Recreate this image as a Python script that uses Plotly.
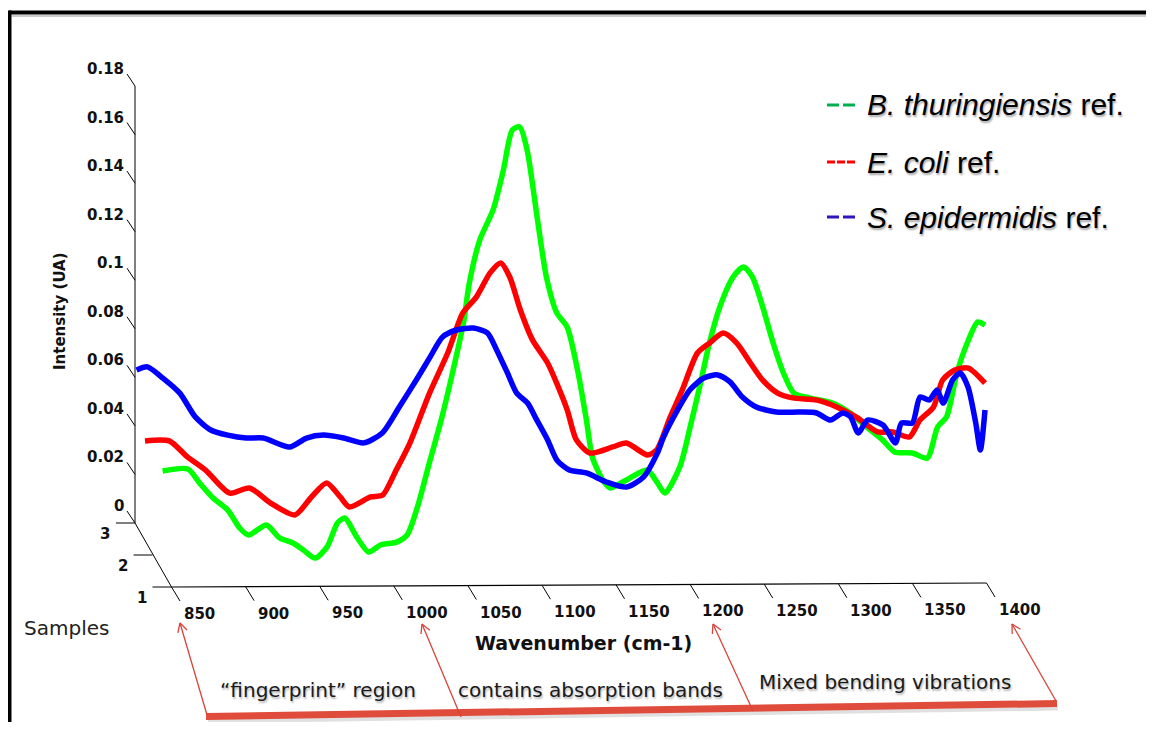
import math
import plotly.graph_objects as go

# ---------------- data ----------------
bt_wavenumber = [844, 861, 869, 878, 888, 896, 902, 914, 923, 932,
                 939, 947, 955, 962, 967, 975, 983, 991, 1002, 1009,
                 1016, 1024, 1032, 1039, 1047, 1051, 1058, 1067, 1074, 1080,
                 1085, 1090, 1097, 1103, 1110, 1117, 1124, 1130, 1134, 1141,
                 1146, 1157, 1171, 1178, 1183, 1193, 1200, 1207, 1213, 1220,
                 1229, 1236, 1242, 1249, 1256, 1263, 1270, 1281, 1296, 1308,
                 1319, 1330, 1338, 1350, 1360, 1367, 1373, 1380, 1387, 1394, 1399]
bt_intensity = [0.0478, 0.0486, 0.0428, 0.0367, 0.0317, 0.0243, 0.0214, 0.0255, 0.0202, 0.0181,
                0.0152, 0.0119, 0.0165, 0.0264, 0.0284, 0.0206, 0.0144, 0.0173, 0.0185, 0.0214,
                0.0330, 0.0511, 0.0688, 0.0865, 0.1087, 0.1252, 0.1429, 0.1553, 0.1718, 0.1882,
                0.1895, 0.1800, 0.1512, 0.1277, 0.1129, 0.1071, 0.0894, 0.0688, 0.0535, 0.0441,
                0.0408, 0.0441, 0.0482, 0.0428, 0.0387, 0.0494, 0.0659, 0.0840, 0.1005, 0.1153,
                0.1277, 0.1318, 0.1277, 0.1153, 0.1005, 0.0881, 0.0799, 0.0778, 0.0758, 0.0717,
                0.0659, 0.0605, 0.0556, 0.0552, 0.0531, 0.0659, 0.0700, 0.0881, 0.1005, 0.1091, 0.1079]

ec_wavenumber = [845, 861, 873, 885, 901, 914, 928, 944, 955, 965,
                 974, 980, 994, 1002, 1011, 1020, 1033, 1045, 1055, 1064,
                 1073, 1080, 1086, 1093, 1101, 1111, 1117, 1124, 1130, 1139,
                 1154, 1163, 1177, 1183, 1192, 1200, 1210, 1218, 1227, 1236,
                 1245, 1253, 1263, 1273, 1289, 1302, 1315, 1329, 1339, 1350,
                 1357, 1366, 1372, 1380, 1389, 1400]
ec_intensity = [0.0470, 0.0470, 0.0404, 0.0350, 0.0255, 0.0276, 0.0214, 0.0165, 0.0239, 0.0297,
                0.0239, 0.0198, 0.0239, 0.0247, 0.0350, 0.0461, 0.0667, 0.0832, 0.0997, 0.1063,
                0.1162, 0.1203, 0.1145, 0.1009, 0.0886, 0.0791, 0.0708, 0.0597, 0.0474, 0.0420,
                0.0445, 0.0461, 0.0412, 0.0432, 0.0568, 0.0680, 0.0832, 0.0873, 0.0914, 0.0873,
                0.0791, 0.0721, 0.0667, 0.0647, 0.0638, 0.0610, 0.0568, 0.0507, 0.0507, 0.0486,
                0.0556, 0.0610, 0.0721, 0.0762, 0.0770, 0.0708]

se_wavenumber = [851, 858, 868, 879, 889, 899, 910, 922, 933, 950,
                 961, 972, 985, 998, 1010, 1021, 1032, 1041, 1049, 1058,
                 1069, 1078, 1084, 1091, 1097, 1104, 1110, 1117, 1123, 1131,
                 1142, 1155, 1168, 1179, 1188, 1192, 1201, 1209, 1218, 1227,
                 1235, 1243, 1252, 1265, 1280, 1291, 1300, 1308, 1313, 1318,
                 1324, 1334, 1342, 1346, 1353, 1358, 1364, 1369, 1373, 1379,
                 1384, 1389, 1394, 1397, 1400]
se_intensity = [0.0630, 0.0643, 0.0597, 0.0535, 0.0437, 0.0383, 0.0362, 0.0350, 0.0350, 0.0313,
                0.0350, 0.0362, 0.0350, 0.0330, 0.0371, 0.0478, 0.0589, 0.0684, 0.0766, 0.0795,
                0.0803, 0.0783, 0.0713, 0.0618, 0.0535, 0.0494, 0.0424, 0.0342, 0.0259, 0.0218,
                0.0206, 0.0169, 0.0148, 0.0189, 0.0288, 0.0354, 0.0465, 0.0548, 0.0597, 0.0610,
                0.0581, 0.0519, 0.0478, 0.0457, 0.0457, 0.0453, 0.0424, 0.0453, 0.0437, 0.0371,
                0.0424, 0.0404, 0.0330, 0.0412, 0.0412, 0.0519, 0.0507, 0.0548, 0.0494, 0.0589,
                0.0618, 0.0560, 0.0412, 0.0301, 0.0465]

series_names = ["B. thuringiensis", "E. coli", "S. epidermidis"]
series_samples = [1, 2, 3]
wavenumber_ticks = [850, 900, 950, 1000, 1050, 1100, 1150, 1200, 1250, 1300, 1350, 1400]
intensity_ticks = [0, 0.02, 0.04, 0.06, 0.08, 0.1, 0.12, 0.14, 0.16, 0.18]
intensity_tick_labels = ["0", "0.02", "0.04", "0.06", "0.08", "0.1", "0.12", "0.14", "0.16", "0.18"]
sample_ticks = [1, 2, 3]
region_labels = ["\u201cfingerprint\u201d region", "contains absorption bands", "Mixed bending vibrations"]

# ---------------- layout / projection (styling) ----------------
PAGE_W, PAGE_H = 1154, 730
OFF = 8                               # default page margin around the plot div
W, H = PAGE_W - 2 * OFF, PAGE_H - 2 * OFF
KZ = 437 / 0.18                      # px per intensity unit
XR = [828, 1416]
YR = [-0.016, 0.2]
proj = [  # front (sample 1) -> back (sample 3), in page pixels
    dict(wa=850, sxa=171.5, kx=815 / 550, y0=587),
    dict(wa=845, sxa=145.0, kx=840 / 555, y0=555),
    dict(wa=850, sxa=135.0, kx=850 / 550, y0=523),
]
ids = ["", "2", "3"]
line_colors = ["#00ff00", "#ff0000", "#0000ff"]
legend_colors = ["#00b050", "#ff0000", "#2e14bd"]
legend_dash = ["12px,4px", "8px,2px", "12px,4px"]


def sx(p, w):
    return p["sxa"] + (w - p["wa"]) * p["kx"]


def sy(p, v):
    return p["y0"] - v * KZ


def px(x):
    return (x - OFF) / W


def py(y):
    return 1 - (y - OFF) / H


series = [(bt_wavenumber, bt_intensity), (ec_wavenumber, ec_intensity), (se_wavenumber, se_intensity)]

fig = go.Figure()
for k in [2, 1, 0]:
    fig.add_trace(go.Scatter(
        x=series[k][0], y=series[k][1],
        xaxis="x" + ids[k], yaxis="y" + ids[k],
        mode="lines", name=series_names[k], showlegend=False, hoverinfo="skip",
        line=dict(color=line_colors[k], width=5.5, shape="spline", smoothing=0.7),
    ))

layout = dict(
    width=W, height=H, margin=dict(l=0, r=0, t=0, b=0),
    paper_bgcolor="white", plot_bgcolor="rgba(0,0,0,0)", showlegend=False,
)
for k, p in enumerate(proj):
    layout["xaxis" + ids[k]] = dict(domain=[px(sx(p, XR[0])), px(sx(p, XR[1]))], range=XR,
                                    visible=False, fixedrange=True, anchor="y" + ids[k])
    layout["yaxis" + ids[k]] = dict(domain=[py(sy(p, YR[0])), py(sy(p, YR[1]))], range=YR,
                                    visible=False, fixedrange=True, anchor="x" + ids[k])
fig.update_layout(**layout)

shapes = []
ann = []
BLACK = "#000000"
tick_font = dict(family="DejaVu Sans", size=15, color="#111111", weight="bold")

# outer frame
shapes.append(dict(type="line", xref="paper", yref="paper", x0=px(12), y0=py(16), x1=1, y1=py(16),
                   line=dict(color="#bbbbbb", width=1.5)))
shapes.append(dict(type="line", xref="paper", yref="paper", x0=px(9), y0=py(12.5), x1=1, y1=py(12.5),
                   line=dict(color=BLACK, width=4)))
shapes.append(dict(type="line", xref="paper", yref="paper", x0=px(9.5), y0=py(10.5), x1=px(9.5), y1=0,
                   line=dict(color=BLACK, width=4)))

# vertical intensity axis (back plane, sample 3)
shapes.append(dict(type="line", xref="x3", yref="y3", x0=850, y0=0, x1=850, y1=0.18,
                   line=dict(color=BLACK, width=1)))
for v, lab in zip(intensity_ticks, intensity_tick_labels):
    shapes.append(dict(type="line", xref="x3", yref="y3", xsizemode="pixel", ysizemode="pixel",
                       xanchor=850, yanchor=v, x0=0, y0=0, x1=-8, y1=12,
                       line=dict(color=BLACK, width=1)))
    ann.append(dict(xref="x3", yref="y3", x=850, y=v, text=lab, showarrow=False,
                    xanchor="right", yanchor="middle", xshift=-9, yshift=17, font=tick_font))

# depth (samples) axis
shapes.append(dict(type="line", xref="paper", yref="paper",
                   x0=px(sx(proj[2], 850)), y0=py(sy(proj[2], 0)),
                   x1=px(sx(proj[0], 850)), y1=py(sy(proj[0], 0)),
                   line=dict(color=BLACK, width=1)))
for k, s in enumerate(series_samples):
    shapes.append(dict(type="line", xref="x" + ids[k], yref="y" + ids[k], xsizemode="pixel",
                       ysizemode="pixel", xanchor=850, yanchor=0, x0=0, y0=0, x1=-19, y1=0,
                       line=dict(color=BLACK, width=1)))
    ann.append(dict(xref="x" + ids[k], yref="y" + ids[k], x=850, y=0, text=str(s), showarrow=False,
                    xanchor="center", yanchor="middle", xshift=-30, yshift=-11, font=tick_font))

# wavenumber axis (front plane, sample 1) with slight tilt
tilt_total = 4 / KZ


def tilt(w):
    return tilt_total * (w - 850) / 550


shapes.append(dict(type="line", xref="x", yref="y", x0=850, y0=0, x1=1400, y1=tilt(1400),
                   line=dict(color=BLACK, width=1.2)))
for w in wavenumber_ticks:
    shapes.append(dict(type="line", xref="x", yref="y", xsizemode="pixel", ysizemode="pixel",
                       xanchor=w, yanchor=tilt(w), x0=0, y0=0, x1=8.5, y1=-14,
                       line=dict(color=BLACK, width=1)))
    ann.append(dict(xref="x", yref="y", x=w, y=tilt(w), text=str(w), showarrow=False,
                    xanchor="left", yanchor="middle", xshift=10, yshift=-27, font=tick_font))

# axis titles
ann.append(dict(xref="paper", yref="paper", x=px(60), y=py(311), text="Intensity (UA)", textangle=-90,
                showarrow=False, xanchor="center", yanchor="middle",
                font=dict(family="DejaVu Sans", size=15, color="#111111", weight="bold")))
ann.append(dict(xref="paper", yref="paper", x=px(66), y=py(628), text="Samples", showarrow=False,
                xanchor="center", yanchor="middle",
                font=dict(family="DejaVu Sans", size=20, color="#222222")))
ann.append(dict(xref="paper", yref="paper", x=px(583), y=py(643), text="Wavenumber (cm-1)",
                showarrow=False, xanchor="center", yanchor="middle",
                font=dict(family="DejaVu Sans", size=19, color="#111111", weight="bold")))

# legend
legend_y = [105, 162, 217]
for k in range(3):
    shapes.append(dict(type="line", xref="paper", yref="paper", x0=px(827), y0=py(legend_y[k]),
                       x1=px(855), y1=py(legend_y[k]),
                       line=dict(color=legend_colors[k], width=3, dash=legend_dash[k])))
    ann.append(dict(xref="paper", yref="paper", x=px(865), y=py(legend_y[k]),
                    text="<i>" + series_names[k] + "</i> ref.", showarrow=False,
                    xanchor="left", yanchor="middle",
                    font=dict(family="Liberation Sans, Arial", size=30, color="#000000",
                              shadow="1px 2px 2px rgba(0,0,0,0.35)")))

# bottom annotation band + arrows
shapes.append(dict(type="line", xref="paper", yref="paper", x0=px(208), y0=py(721), x1=px(1058), y1=py(708),
                   line=dict(color="rgba(0,0,0,0.12)", width=5)))
shapes.append(dict(type="line", xref="paper", yref="paper", x0=px(206), y0=py(716.5), x1=px(1057), y1=py(703.5),
                   line=dict(color="#e04c3c", width=7)))
arrow_tips = [(180, 623), (422, 624), (713, 624), (1012, 624)]
arrow_bases = [(207, 715), (461, 717), (753, 711), (1056, 701)]
for (tx, ty), (bx, by) in zip(arrow_tips, arrow_bases):
    shapes.append(dict(type="line", xref="paper", yref="paper", x0=px(bx), y0=py(by), x1=px(tx), y1=py(ty),
                       line=dict(color="#d8443a", width=1.3)))
    dx, dy = bx - tx, by - ty
    L = math.hypot(dx, dy)
    ux, uy = dx / L, dy / L
    for ang in (0.5, -0.5):
        ax = ux * math.cos(ang) - uy * math.sin(ang)
        ay = ux * math.sin(ang) + uy * math.cos(ang)
        shapes.append(dict(type="line", xref="paper", yref="paper", x0=px(tx), y0=py(ty),
                           x1=px(tx + 10 * ax), y1=py(ty + 10 * ay),
                           line=dict(color="#d8443a", width=1.3)))

region_pos = [(318, 690), (590, 690), (885, 682)]
for lab, (x, y) in zip(region_labels, region_pos):
    ann.append(dict(xref="paper", yref="paper", x=px(x), y=py(y), text=lab, showarrow=False,
                    xanchor="center", yanchor="middle",
                    font=dict(family="DejaVu Sans", size=20, color="#1a1a1a",
                              shadow="1px 2px 2px rgba(0,0,0,0.3)")))

fig.update_layout(shapes=shapes, annotations=ann)
fig.write_html("out.html")
